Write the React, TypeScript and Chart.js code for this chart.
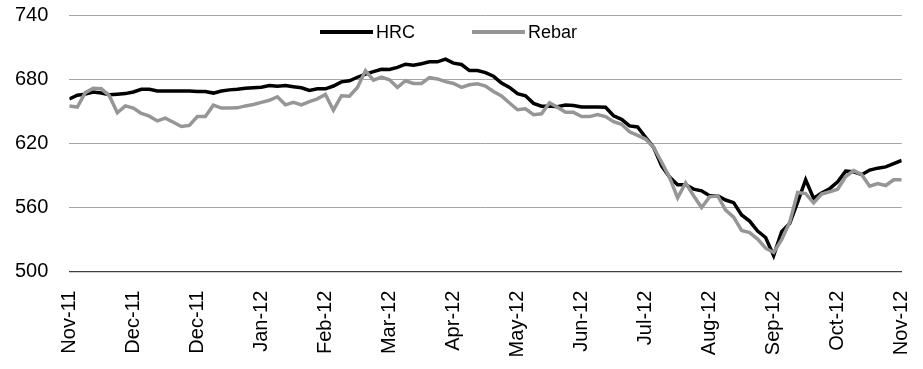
import React, { useEffect, useRef } from "react";
import { Chart, registerables } from "chart.js";

Chart.register(...registerables);

const monthLabels = [
  "Nov-11", "Dec-11", "Dec-11", "Jan-12", "Feb-12", "Mar-12", "Apr-12",
  "May-12", "Jun-12", "Jul-12", "Aug-12", "Sep-12", "Oct-12", "Nov-12",
];
const pointsPerMonth = 8;

const hrc = [
  661.5, 665, 666, 668, 667, 665.5, 666, 666.5, 668, 670.5,
  670.5, 669, 669, 669, 669, 669, 668.5, 668.5, 667, 669,
  670, 670.5, 671.5, 672, 672.5, 674, 673.5, 674, 673, 672,
  669.5, 671, 671, 673.6, 677.5, 678.5, 681.8, 684.8, 687, 689.3,
  689, 691, 694, 693, 694.5, 696.3, 696.2, 698.8, 695, 693.7,
  688, 688, 686.2, 682.7, 676.4, 672.3, 666.5, 664.5, 657.4, 654.8,
  654.8, 654.3, 655.9, 655.4, 654, 654, 654, 653.7, 645.8, 642.5,
  636.3, 635.3, 625.7, 616.2, 599, 588.5, 581.3, 581.3, 577.2, 575.6,
  571, 571, 567, 564.6, 553, 547.3, 538, 532, 515, 537.5,
  545, 565, 586, 568.6, 573.6, 577.6, 584, 594, 593.4, 590.7,
  595, 596.8, 598, 601, 604,
];

const rebar = [
  655, 654, 667.4, 671.5, 671, 664.6, 648.6, 655, 653, 648,
  645.4, 641, 643.5, 639.7, 635.7, 636.8, 645, 645, 655.7, 653,
  653, 653.2, 655, 656.3, 658.3, 660.3, 663.6, 656, 658.3, 656,
  659, 661.6, 665.8, 651, 664.5, 664, 672.3, 688, 679.1, 682,
  679.4, 672.2, 678.5, 676, 676, 681.4, 680.2, 677.7, 676, 672.3,
  674.8, 675.7, 673.6, 668.5, 664.3, 657.7, 651.4, 652.3, 646.8, 647.6,
  657.9, 653.8, 649, 649, 645, 645, 647, 645, 640.3, 637.8,
  630.8, 627.4, 624, 616.4, 602.6, 588, 569, 583, 571, 560,
  570, 571, 557.6, 551, 538.5, 536.6, 530.5, 522, 518, 530,
  546, 574, 573, 564.4, 572.5, 574.7, 577.1, 589, 594.5, 590.7,
  580, 582.4, 580.6, 586, 586,
];

const yMin = 500;
const yMax = 740;
const yStep = 60;

const FONT = "'Liberation Sans', Arial, sans-serif";

const legendPlugin = {
  id: "overlayLegend",
  afterDraw(chart: any) {
    const ctx = chart.ctx;
    const starts = [320, 472];
    const lineLen = 53;
    const y = 32;
    ctx.save();
    ctx.font = `18px ${FONT}`;
    ctx.textBaseline = "middle";
    ctx.textAlign = "left";
    ctx.lineCap = "butt";
    chart.data.datasets.forEach((ds: any, i: number) => {
      const x = starts[i];
      ctx.strokeStyle = ds.borderColor;
      ctx.lineWidth = 4;
      ctx.beginPath();
      ctx.moveTo(x, y);
      ctx.lineTo(x + lineLen, y);
      ctx.stroke();
      ctx.fillStyle = "#000";
      ctx.fillText(ds.label, x + lineLen + 3, y + 1);
    });
    ctx.restore();
  },
};

const clearPadding = (s: any) => {
  s.paddingTop = 0;
  s.paddingBottom = 0;
  s.paddingLeft = 0;
  s.paddingRight = 0;
};

export default function App() {
  const ref = useRef<HTMLCanvasElement | null>(null);

  useEffect(() => {
    if (!ref.current) return;
    const toPts = (arr: number[]) => arr.map((v, i) => ({ x: i, y: v }));
    const chart = new Chart(ref.current, {
      type: "line",
      data: {
        datasets: [
          {
            label: "HRC",
            data: toPts(hrc),
            borderColor: "#000000",
            backgroundColor: "#000000",
            borderWidth: 3.5,
            pointRadius: 0,
            tension: 0,
            order: 1,
          },
          {
            label: "Rebar",
            data: toPts(rebar),
            borderColor: "#969696",
            backgroundColor: "#969696",
            borderWidth: 3.5,
            pointRadius: 0,
            tension: 0,
            order: 0,
          },
        ],
      },
      options: {
        animation: false,
        responsive: true,
        maintainAspectRatio: false,
        layout: { padding: { left: 0, right: 21.3, top: 15, bottom: 0 } },
        plugins: {
          legend: { display: false },
          tooltip: { enabled: false },
        },
        scales: {
          x: {
            type: "linear",
            min: 0,
            max: (monthLabels.length - 1) * pointsPerMonth,
            afterFit: (s: any) => {
              s.height = 97.3;
              clearPadding(s);
            },
            ticks: {
              stepSize: pointsPerMonth,
              autoSkip: false,
              minRotation: 90,
              maxRotation: 90,
              padding: 19,
              color: "#000",
              font: { family: FONT, size: 20 },
              callback: (v: any) => {
                const idx = Math.round(Number(v) / pointsPerMonth);
                return Number(v) % pointsPerMonth === 0 ? monthLabels[idx] : "";
              },
            },
            grid: { display: false, drawTicks: false },
            border: { display: true, color: "#404040", width: 1.3 },
          },
          y: {
            min: yMin,
            max: yMax,
            afterFit: (s: any) => {
              s.width = 69.3;
              clearPadding(s);
            },
            ticks: {
              stepSize: yStep,
              padding: 21,
              color: "#000",
              font: { family: FONT, size: 20 },
            },
            grid: { color: "#a6a6a6", lineWidth: 1, drawTicks: false },
            border: { display: false },
          },
        },
      },
      plugins: [legendPlugin],
    });
    return () => chart.destroy();
  }, []);

  return (
    <div style={{ position: "absolute", left: 0, top: 0, width: 923, height: 369, background: "#fff" }}>
      <canvas ref={ref} />
    </div>
  );
}
